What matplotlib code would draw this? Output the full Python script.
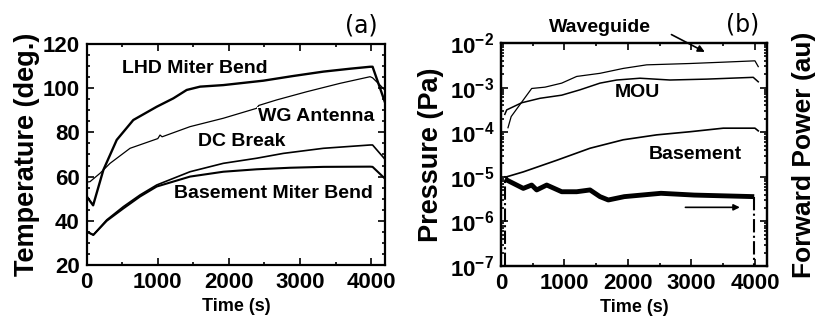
import matplotlib
matplotlib.use("Agg")
import matplotlib.pyplot as plt
import numpy as np
from matplotlib.ticker import MultipleLocator, LogLocator, FuncFormatter, NullFormatter

plt.rcParams['font.family'] = ['Liberation Sans', 'DejaVu Sans']
plt.rcParams['font.weight'] = 'bold'
plt.rcParams['axes.labelweight'] = 'bold'
plt.rcParams['mathtext.fontset'] = 'custom'
plt.rcParams['mathtext.rm'] = 'Liberation Sans:bold'
plt.rcParams['mathtext.bf'] = 'Liberation Sans:bold'

# ---- panel (a): temperatures ----
lhd_t = [0, 90, 234, 422, 655, 984, 1218, 1406, 1594, 1921, 2484, 2900, 3328, 3700, 3985, 4020, 4190]
lhd_y = [51, 47, 63, 76.6, 85.6, 91.6, 95.4, 99.2, 100.7, 101.4, 103.4, 105.5, 107.5, 108.8, 109.7, 109.7, 94]

wg_t = [0, 46, 187, 328, 609, 1000, 1031, 1060, 1453, 1921, 2389, 2420, 2672, 3094, 3563, 3985, 4020, 4125, 4190]
wg_y = [57.5, 57.7, 61.5, 66, 72.8, 77.2, 78.8, 78, 82.6, 86.4, 90.9, 92.2, 94.7, 98.4, 102.2, 105.2, 104.7, 101.4, 99.2]

dc_t = [0, 93, 281, 515, 750, 984, 1453, 1921, 2389, 2765, 3328, 3985, 4020, 4190]
dc_y = [35.1, 33.6, 40.4, 46.4, 51.7, 56.2, 62.2, 66, 68.3, 70.5, 72.8, 74.3, 74.3, 68]

bmb_t = [0, 93, 281, 515, 750, 984, 1453, 1921, 2389, 2859, 3328, 3985, 4020, 4190]
bmb_y = [35.1, 33.6, 40, 45.6, 51, 55.5, 60, 62.2, 63.3, 64, 64.4, 64.5, 64.4, 59.2]

# ---- panel (b): pressures (Pa) and forward power (au) ----
wgd_t = [110, 160, 483, 693, 956, 1192, 1559, 1926, 2294, 2976, 3501, 4000, 4052]
wgd_log = [-3.9, -3.65, -3.02, -2.99, -2.90, -2.75, -2.68, -2.57, -2.49, -2.46, -2.43, -2.40, -2.53]

mou_t = [60, 90, 326, 614, 956, 1244, 1559, 1822, 2189, 2661, 3239, 3973, 4052]
mou_log = [-3.6, -3.50, -3.34, -3.24, -3.17, -3.05, -2.90, -2.83, -2.79, -2.83, -2.81, -2.77, -2.87]

bas_t = [60, 90, 351, 877, 1402, 1926, 2452, 2976, 3501, 4000, 4052]
bas_log = [-5.0, -5.0, -4.89, -4.63, -4.36, -4.17, -4.06, -3.99, -3.91, -3.91, -3.97]

pow_t = [60, 142, 351, 483, 562, 720, 956, 1192, 1402, 1559, 1690, 1942, 2520, 3044, 3989]
pow_p = [0.39, 0.378, 0.348, 0.363, 0.341, 0.363, 0.333, 0.333, 0.341, 0.311, 0.296, 0.311, 0.326, 0.318, 0.311]

fig = plt.figure(figsize=(8.22, 3.23), dpi=100)
ax1 = fig.add_axes([0.1055, 0.1796, 0.3629, 0.6842])
ax2 = fig.add_axes([0.6095, 0.1765, 0.3236, 0.6904])

lbl_box = dict(facecolor='white', edgecolor='none', pad=1.0)

ax1.plot(lhd_t, lhd_y, color='black', lw=1.7)
ax1.plot(wg_t, wg_y, color='black', lw=0.9)
ax1.plot(dc_t, dc_y, color='black', lw=1.2)
ax1.plot(bmb_t, bmb_y, color='black', lw=1.5)
ax1.text(1524, 108.9, "LHD Miter Bend", fontsize=14, ha='center', va='center', bbox=lbl_box, zorder=5)
ax1.text(3232, 87.2, "WG Antenna", fontsize=14, ha='center', va='center', bbox=lbl_box, zorder=5)
ax1.text(2180, 75.9, "DC Break", fontsize=14, ha='center', va='center', bbox=lbl_box, zorder=5)
ax1.text(2620, 52.4, "Basement Miter Bend", fontsize=14, ha='center', va='center', bbox=lbl_box, zorder=5)

ax1.set_xlim(0, 4195)
ax1.set_ylim(20, 120)
ax1.xaxis.set_major_locator(MultipleLocator(1000))
ax1.xaxis.set_minor_locator(MultipleLocator(500))
ax1.yaxis.set_major_locator(MultipleLocator(20))
ax1.yaxis.set_minor_locator(MultipleLocator(5))
ax1.set_xlabel("Time (s)", fontsize=13, labelpad=4)
ax1.set_ylabel("Temperature (deg.)", fontsize=19.5, labelpad=2)
fig.text(0.440, 0.922, "(a)", fontsize=17, fontweight='normal', family='DejaVu Sans', ha='center', va='center')

# pressure traces
ax2.plot(wgd_t, 10.0 ** np.array(wgd_log), color='black', lw=0.9)
ax2.plot(mou_t, 10.0 ** np.array(mou_log), color='black', lw=1.1)
ax2.plot(bas_t, 10.0 ** np.array(bas_log), color='black', lw=1.2)
ax2.set_yscale('log')
ax2.set_ylim(1e-7, 1e-2)
ax2.set_xlim(0, 4190)
ax2.xaxis.set_major_locator(MultipleLocator(1000))
ax2.xaxis.set_minor_locator(MultipleLocator(500))
ax2.yaxis.set_major_locator(LogLocator(base=10, numticks=10))
ax2.yaxis.set_minor_locator(LogLocator(base=10, subs=np.arange(2, 10), numticks=10))
ax2.yaxis.set_minor_formatter(NullFormatter())
ax2.yaxis.set_major_formatter(FuncFormatter(lambda v, p: r'$\mathbf{10^{%d}}$' % int(round(np.log10(v)))))
ax2.set_xlabel("Time (s)", fontsize=13, labelpad=4)
ax2.set_ylabel("Pressure (Pa)", fontsize=19.5, labelpad=4)
ax2.text(2143, 7.85e-4, "MOU", fontsize=14, ha='center', va='center')
ax2.text(3063, 3.1e-5, "Basement", fontsize=14, ha='center', va='center')
ax2.text(1563, 2.27e-2, "Waveguide", fontsize=14, ha='center', va='center', clip_on=False)
ax2.annotate("", xy=(3249, 5.9e-3), xytext=(2646, 1.65e-2),
             arrowprops=dict(arrowstyle='-|>', color='black', lw=1.2, mutation_scale=10),
             annotation_clip=False)
fig.text(0.904, 0.925, "(b)", fontsize=17, fontweight='normal', family='DejaVu Sans', ha='center', va='center')

# forward power on its own axis
ax3 = ax2.twinx()
ax3.set_ylim(0, 1)
ax3.plot(pow_t, pow_p, color='black', lw=3.5, solid_capstyle='butt')
ax3.plot([pow_t[0], pow_t[0]], [0, pow_p[0]], color='black', lw=1.5, ls='-.')
ax3.plot([pow_t[-1], pow_t[-1]], [pow_p[-1], 0], color='black', lw=1.5, ls='-.')
ax3.annotate("", xy=(3806, 0.263), xytext=(2861, 0.263),
             arrowprops=dict(arrowstyle='-|>', color='black', lw=1.2, mutation_scale=9))
ax3.tick_params(right=False, labelright=False)
ax3.set_ylabel("Forward Power (au)", fontsize=19, labelpad=18)

for ax in (ax1, ax2):
    ax.tick_params(which='both', direction='in', top=True, right=True, labelsize=16, pad=5, width=1.2)
    ax.tick_params(which='major', length=5)
    ax.tick_params(which='minor', length=2.5)
    for s in ax.spines.values():
        s.set_linewidth(1.6)
for s in ax3.spines.values():
    s.set_linewidth(1.6)

fig.savefig("out.png", dpi=100)
